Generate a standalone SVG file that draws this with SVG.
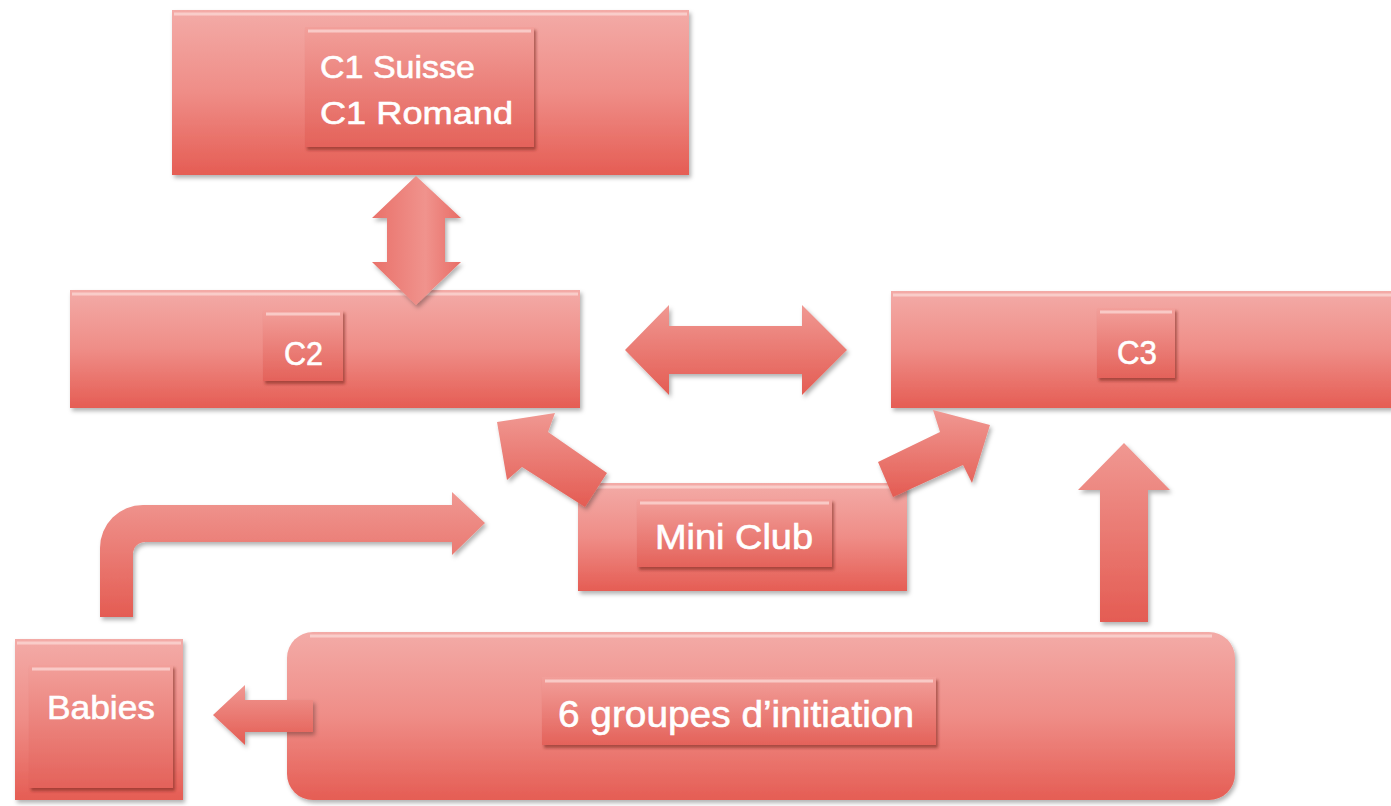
<svg xmlns="http://www.w3.org/2000/svg" width="1391" height="806" viewBox="0 0 1391 806">
<defs>
<linearGradient id="boxGrad" x1="0" y1="0" x2="0" y2="1">
<stop offset="0" stop-color="#f3aba7"/>
<stop offset="0.5" stop-color="#ef8d87"/>
<stop offset="1" stop-color="#e55d54"/>
</linearGradient>
<linearGradient id="innerGrad" x1="0" y1="0" x2="0" y2="1">
<stop offset="0" stop-color="#f29f9a"/>
<stop offset="1" stop-color="#e4625a"/>
</linearGradient>
<linearGradient id="arrowV" x1="0" y1="0" x2="0" y2="1">
<stop offset="0" stop-color="#f09892"/>
<stop offset="1" stop-color="#e45c53"/>
</linearGradient>
<linearGradient id="arrowH" x1="0" y1="0" x2="1" y2="0">
<stop offset="0" stop-color="#e9716a"/>
<stop offset="0.6" stop-color="#f0938d"/>
<stop offset="1" stop-color="#e86d66"/>
</linearGradient>
<filter id="shadow" x="-10%" y="-10%" width="120%" height="130%">
<feDropShadow dx="2" dy="3" stdDeviation="2" flood-color="#000" flood-opacity="0.3"/>
</filter>
<filter id="innerShadow" x="-10%" y="-10%" width="125%" height="130%">
<feDropShadow dx="2" dy="3" stdDeviation="1.5" flood-color="#7a2520" flood-opacity="0.6"/>
</filter>
</defs>
<style>
.outer{fill:url(#boxGrad);filter:url(#shadow);}
.inner{fill:url(#innerGrad);filter:url(#innerShadow);}
.hl{stroke:#fbd6d3;stroke-width:3;opacity:0.8;}
.lbl{font-family:"Liberation Sans",Arial,sans-serif;fill:#ffffff;stroke:#ffffff;stroke-width:0.6;}
.arr{filter:url(#shadow);}
</style>

<g id="node-c1">
<rect class="outer" x="172" y="10" width="517" height="165"/>
<line class="hl" x1="174" y1="14" x2="687" y2="14"/>
<rect class="inner" x="305" y="27" width="229" height="120"/>
<line class="hl" x1="308" y1="31" x2="531" y2="31"/>
<text class="lbl" x="320" y="78" font-size="32" textLength="155" lengthAdjust="spacingAndGlyphs">C1 Suisse</text>
<text class="lbl" x="320" y="124" font-size="32" textLength="193" lengthAdjust="spacingAndGlyphs">C1 Romand</text>
</g>

<g id="node-c2">
<rect class="outer" x="70" y="290" width="510" height="118"/>
<line class="hl" x1="72" y1="294" x2="578" y2="294"/>
<rect class="inner" x="263" y="310" width="80" height="71"/>
<line class="hl" x1="266" y1="314" x2="340" y2="314"/>
<text class="lbl" x="284" y="365" font-size="34" textLength="39" lengthAdjust="spacingAndGlyphs">C2</text>
</g>

<g id="node-c3">
<rect class="outer" x="891" y="291" width="502" height="117"/>
<line class="hl" x1="893" y1="295" x2="1391" y2="295"/>
<rect class="inner" x="1097" y="308" width="78" height="70"/>
<line class="hl" x1="1100" y1="312" x2="1172" y2="312"/>
<text class="lbl" x="1117" y="364" font-size="34" textLength="40" lengthAdjust="spacingAndGlyphs">C3</text>
</g>

<g id="node-miniclub">
<rect class="outer" x="578" y="483" width="329" height="108"/>
<line class="hl" x1="580" y1="487" x2="905" y2="487"/>
<rect class="inner" x="637" y="499" width="195" height="68"/>
<line class="hl" x1="640" y1="503" x2="829" y2="503"/>
<text class="lbl" x="655" y="549" font-size="35" textLength="158" lengthAdjust="spacingAndGlyphs">Mini Club</text>
</g>

<g id="node-babies">
<rect class="outer" x="15" y="639" width="168" height="161"/>
<line class="hl" x1="17" y1="643" x2="181" y2="643"/>
<rect class="inner" x="29" y="665" width="144" height="123"/>
<line class="hl" x1="32" y1="669" x2="170" y2="669"/>
<text class="lbl" x="47" y="719" font-size="34" textLength="108" lengthAdjust="spacingAndGlyphs">Babies</text>
</g>

<g id="node-initiation">
<rect class="outer" x="287" y="632" width="948" height="168" rx="26" ry="26"/>
<line class="hl" x1="310" y1="636" x2="1212" y2="636"/>
<rect class="inner" x="542" y="677" width="394" height="68"/>
<line class="hl" x1="545" y1="681" x2="933" y2="681"/>
<text class="lbl" x="558" y="727" font-size="37" textLength="356" lengthAdjust="spacingAndGlyphs">6 groupes d’initiation</text>
</g>

<g id="connectors">
<polygon class="arr" fill="url(#arrowH)" points="416,176 461,218 445,218 445,262 461,262 416,305 372,262 387,262 387,218 372,218"/>
<polygon class="arr" fill="url(#arrowV)" points="625,350 669,305 669,326 802,326 802,305 847,350 802,395 802,374 669,374 669,395"/>
<polygon class="arr" fill="url(#arrowV)" points="497,422 555,413 548,432 607,473 585,507 522,467 507,480"/>
<polygon class="arr" fill="url(#arrowV)" points="990,425 972,483 963,465 893,497 878,462 940,432 933,410"/>
<polygon class="arr" fill="url(#arrowV)" points="1124,443 1170,490 1148,490 1148,622 1100,622 1100,490 1078,490"/>
<path class="arr" fill="url(#arrowV)" d="M100,617 L100,548 A43,43 0 0 1 143,505 L452,505 L452,492 L485,523 L452,555 L452,542 L145,542 A12,12 0 0 0 133,554 L133,617 Z"/>
<polygon class="arr" fill="url(#arrowV)" points="213,715 245,685 245,700 313,700 313,732 245,732 245,745"/>
</g>
</svg>
